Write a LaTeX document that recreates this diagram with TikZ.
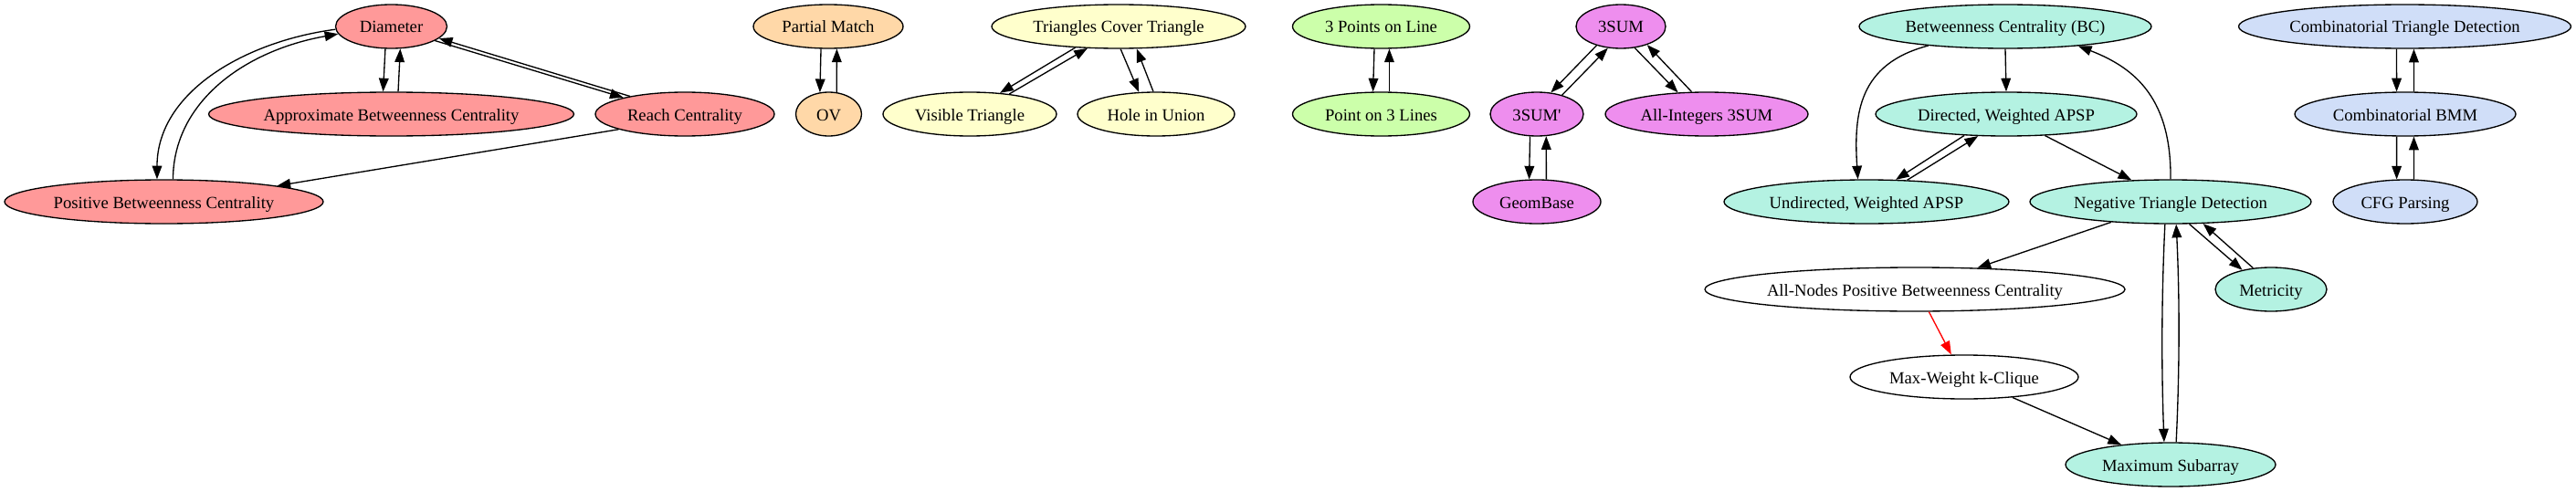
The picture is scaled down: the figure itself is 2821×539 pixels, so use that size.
\documentclass[tikz,border=0pt]{standalone}
\usepackage{fontspec}
\setmainfont{Liberation Serif}
\usetikzlibrary{shapes.geometric,arrows.meta}
\definecolor{cpink}{HTML}{FF9999}
\definecolor{cpeach}{HTML}{FFD8A8}
\definecolor{cyell}{HTML}{FFFFCC}
\definecolor{cgreen}{HTML}{CCFFAA}
\definecolor{cviol}{HTML}{EE8EEE}
\definecolor{cteal}{HTML}{B4F2E2}
\definecolor{cblue}{HTML}{D0DEF8}
\begin{document}
\begin{tikzpicture}[x=0.75pt,y=-0.75pt,
  gv/.style={ellipse,draw=black,line width=1pt,inner sep=0pt,minimum height=36pt,
    font=\fontsize{14pt}{16pt}\selectfont,text height=13pt,text depth=2.5pt},
  rx/.style={minimum width=#1*1.5pt},
  e/.style={line width=1pt,-{Triangle[length=11pt,width=8pt]}}]
\useasboundingbox (0,0) rectangle (2821,539);
% red group
\node[gv,fill=cpink,rx=61]   (diam)  at (428.5,29) {\makebox[0pt]{Diameter}};
\node[gv,fill=cpink,rx=200]  (abc)   at (428.5,125) {\makebox[0pt]{Approximate Betweenness Centrality}};
\node[gv,fill=cpink,rx=98]   (reach) at (750,125) {\makebox[0pt]{Reach Centrality}};
\node[gv,fill=cpink,rx=174.5] (pbc)  at (179.5,221) {\makebox[0pt]{Positive Betweenness Centrality}};
% orange
\node[gv,fill=cpeach,rx=82]  (pm)    at (907,29) {\makebox[0pt]{Partial Match}};
\node[gv,fill=cpeach,rx=36]  (ov)    at (907.5,125) {\makebox[0pt]{OV}};
% yellow
\node[gv,fill=cyell,rx=139]  (tct)   at (1225,29) {\makebox[0pt]{Triangles Cover Triangle}};
\node[gv,fill=cyell,rx=95]   (vis)   at (1062,125) {\makebox[0pt]{Visible Triangle}};
\node[gv,fill=cyell,rx=86]   (hole)  at (1266,125) {\makebox[0pt]{Hole in Union}};
% green
\node[gv,fill=cgreen,rx=97]  (p3l)   at (1512.5,29) {\makebox[0pt]{3 Points on Line}};
\node[gv,fill=cgreen,rx=97]  (pt3)   at (1512.5,125) {\makebox[0pt]{Point on 3 Lines}};
% violet
\node[gv,fill=cviol,rx=49]   (s3)    at (1775,29) {\makebox[0pt]{3SUM}};
\node[gv,fill=cviol,rx=51]   (s3p)   at (1683,125) {\makebox[0pt]{3SUM\textquotesingle}};
\node[gv,fill=cviol,rx=70]   (geom)  at (1683,221) {\makebox[0pt]{GeomBase}};
\node[gv,fill=cviol,rx=111]  (allint) at (1869,125) {\makebox[0pt]{All-Integers 3SUM}};
% teal
\node[gv,fill=cteal,rx=160]  (bc)    at (2196,29) {\makebox[0pt]{Betweenness Centrality (BC)}};
\node[gv,fill=cteal,rx=143]  (dapsp) at (2197,125) {\makebox[0pt]{Directed, Weighted APSP}};
\node[gv,fill=cteal,rx=156]  (uapsp) at (2044,221) {\makebox[0pt]{Undirected, Weighted APSP}};
\node[gv,fill=cteal,rx=154]  (ntd)   at (2377,221) {\makebox[0pt]{Negative Triangle Detection}};
\node[gv,fill=white,rx=230]  (anpbc) at (2097,317) {\makebox[0pt]{All-Nodes Positive Betweenness Centrality}};
\node[gv,fill=cteal,rx=61]   (metr)  at (2487,317) {\makebox[0pt]{Metricity}};
\node[gv,fill=white,rx=125]  (mwk)   at (2151,413) {\makebox[0pt]{Max-Weight k-Clique}};
\node[gv,fill=cteal,rx=115]  (msub)  at (2377,509) {\makebox[0pt]{Maximum Subarray}};
% blue
\node[gv,fill=cblue,rx=182]  (ctd)   at (2633.5,29) {\makebox[0pt]{Combinatorial Triangle Detection}};
\node[gv,fill=cblue,rx=121]  (cbmm)  at (2634,125) {\makebox[0pt]{Combinatorial BMM}};
\node[gv,fill=cblue,rx=79]   (cfg)   at (2634,221) {\makebox[0pt]{CFG Parsing}};
% edges
\draw[e] (diam.255) -- (abc.110);
\draw[e] (abc.73) -- (diam.-68);
\draw[e] (diam.-18) -- (reach.165);
\draw[e] (reach.162) -- (diam.-14);
\draw[e] (diam.183) .. controls (270,45) and (172,100) .. (pbc.107);
\draw[e] (pbc.68) .. controls (190,110) and (270,55) .. (diam.188);
\draw[e] (reach.193) -- (pbc.8);
\draw[e] (pm.252) -- (ov.112);
\draw[e] (ov.70) -- (pm.-69);
\draw[e] (tct.206) -- (vis.35);
\draw[e] (vis.27) -- (tct.215);
\draw[e] (tct.-85) -- (hole.128);
\draw[e] (hole.97) -- (tct.-51);
\draw[e] (p3l.253) -- (pt3.110);
\draw[e] (pt3.70) -- (p3l.-70);
\draw[e] (s3.218) -- (s3p.57);
\draw[e] (s3p.37) -- (s3.239);
\draw[e] (s3.-57) -- (allint.143);
\draw[e] (allint.124) -- (s3.-35);
\draw[e] (s3p.253) -- (geom.109);
\draw[e] (geom.67) -- (s3p.-67);
\draw[e] (bc.south) -- (dapsp.north);
\draw[e] (bc.194) .. controls (2035,70) and (2030,125) .. (uapsp.111);
\draw[e] (dapsp.207) -- (uapsp.37);
\draw[e] (uapsp.28) -- (dapsp.218);
\draw[e] (dapsp.-29) -- (ntd.151);
\draw[e] (ntd.north) .. controls (2378,110) and (2340,75) .. (bc.-15);
\draw[e] (ntd.199) -- (anpbc.19);
\draw[e] (ntd.256) .. controls (2367,325) and (2367,405) .. (msub.106);
\draw[e] (msub.76) .. controls (2387,405) and (2387,325) .. (ntd.-76);
\draw[e] (ntd.-50) -- (metr.146);
\draw[e] (metr.130) -- (ntd.-34);
\draw[e,red] (anpbc.-58) -- (mwk.120);
\draw[e] (mwk.-23) -- (msub.158);
\draw[e] (ctd.250) -- (cbmm.111);
\draw[e] (cbmm.69) -- (ctd.-68);
\draw[e] (cbmm.249) -- (cfg.111);
\draw[e] (cfg.69) -- (cbmm.-69);
\end{tikzpicture}
\end{document}
